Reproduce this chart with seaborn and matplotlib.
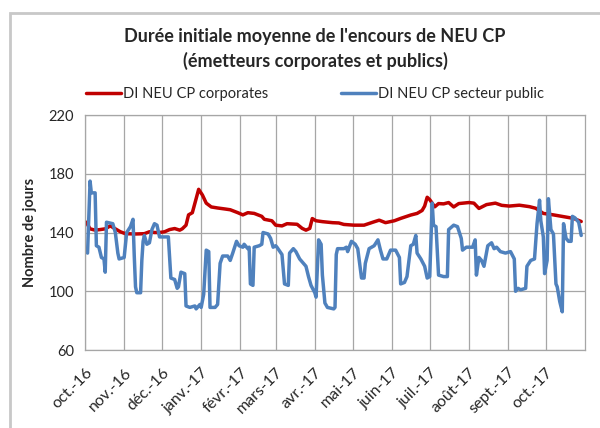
import pandas as pd
import matplotlib
matplotlib.use("Agg")
import matplotlib.pyplot as plt
import matplotlib.transforms as mtransforms
from matplotlib.patches import Rectangle
import seaborn as sns

# days counted from 1 Oct 2016, values in days
corp_days = [1, 4, 8, 12, 16, 20, 24, 28, 32, 40, 47, 51, 55, 59, 63, 67, 71, 75, 77, 80,
             82, 85, 88, 90, 93, 96, 100, 105, 111, 115, 118, 121, 125, 129, 134, 140, 142,
             148, 151, 156, 160, 168, 172, 175, 178, 180, 183, 188, 196, 201, 205, 213, 221,
             229, 233, 238, 245, 250, 258, 263, 267, 269, 271, 273, 277, 280, 284, 288, 292,
             296, 304, 308, 312, 318, 325, 330, 336, 344, 352, 357, 363, 371, 379, 387, 393]
corp_vals = [147, 142.5, 141.6, 142, 142.5, 144.5, 142.5, 140.5, 139.2, 139, 139.2, 140.5,
             140, 140, 140.5, 142, 142.7, 141.6, 142.5, 145, 152, 153.5, 163, 169.4, 165.5,
             160, 157.4, 156.7, 156, 155.5, 154.5, 153.5, 152, 153.5, 153, 151, 149, 148, 145,
             144.5, 146, 145.6, 142.8, 141.6, 142.8, 149.5, 148, 147.4, 146.7, 146.5, 145.5,
             145, 145, 147.3, 148.4, 146.7, 148, 149.6, 151.9, 153, 155, 158, 164, 162.4,
             157.5, 159.7, 159.5, 160.4, 157.4, 159.7, 160.4, 160, 156.4, 159, 160, 158.5,
             158, 158.6, 157.6, 156.5, 153, 152, 150.8, 149.6, 147.5]

pub_days = [1, 2, 4, 5, 8, 9, 11, 13, 15, 16, 17, 22, 24, 26, 27, 31, 33, 36, 38, 39, 40, 41,
            44, 45, 46, 47, 49, 51, 53, 55, 57, 59, 66, 68, 71, 73, 74, 76, 79, 80, 83, 87, 88,
            91, 92, 94, 96, 98, 99, 103, 105, 107, 109, 113, 115, 117, 120, 122, 125, 126, 129,
            130, 131, 133, 134, 138, 140, 141, 145, 147, 149, 151, 152, 156, 158, 161, 162, 165,
            167, 170, 173, 175, 177, 179, 182, 183, 185, 187, 188, 190, 192, 197, 198, 199, 200,
            205, 207, 208, 211, 214, 216, 219, 221, 222, 225, 229, 232, 234, 236, 239, 242, 246,
            249, 250, 253, 255, 258, 260, 262, 263, 266, 269, 271, 273, 275, 276, 278, 280, 284,
            287, 288, 292, 295, 298, 299, 302, 307, 309, 310, 312, 314, 316, 319, 322, 324, 326,
            329, 333, 337, 340, 341, 343, 345, 349, 350, 353, 356, 358, 360, 361, 363, 364, 366,
            367, 369, 371, 373, 374, 376, 378, 379, 381, 383, 385, 386, 388, 391, 393]
pub_vals = [127, 126, 175, 167, 167, 131, 130, 123, 122, 113, 147, 146, 140, 126, 122, 123,
            140, 144, 149, 124, 103, 99, 99, 121, 134, 138, 132, 133, 142, 146, 145, 137, 137,
            109, 108, 102, 103, 113, 112, 90, 89, 90, 88, 91, 89, 98, 128, 127, 89, 89, 91, 119,
            124, 124, 121, 126, 134, 131, 130, 132, 129, 130, 105, 104, 130, 131, 132, 140, 139,
            136, 130, 131, 130, 125, 105, 104, 126, 129, 127, 122, 119, 117, 110, 104, 99, 96,
            135, 132, 111, 92, 89, 88, 89, 125, 129, 129, 130, 127, 134, 132, 129, 109, 109, 119,
            129, 131, 135, 128, 122, 122, 128, 128, 123, 105, 106, 110, 131, 132, 138, 126, 122,
            117, 109, 110, 160, 145, 144, 111, 110, 110, 142, 145, 144, 136, 128, 130, 130, 135,
            111, 123, 121, 117, 131, 133, 129, 130, 127, 126, 127, 122, 100, 102, 101, 102, 117,
            121, 122, 146, 162, 148, 137, 112, 121, 163, 142, 139, 105, 103, 93, 86, 146, 136,
            134, 134, 151, 150, 147, 138]

month_labels = ['oct.-16', 'nov.-16', 'déc.-16', 'janv.-17', 'févr.-17', 'mars-17', 'avr.-17',
                'mai-17', 'juin-17', 'juil.-17', 'août-17', 'sept.-17', 'oct.-17']
y_ticks = [60, 100, 140, 180, 220]

start = pd.Timestamp('2016-10-01')
corp = pd.DataFrame({'date': start + pd.to_timedelta(corp_days, unit='D'),
                     'jours': corp_vals, 'serie': 'DI NEU CP corporates'})
pub = pd.DataFrame({'date': start + pd.to_timedelta(pub_days, unit='D'),
                    'jours': pub_vals, 'serie': 'DI NEU CP secteur public'})
df = pd.concat([corp, pub], ignore_index=True)

sns.set_style("white")
plt.rcParams['font.family'] = ['Lato', 'DejaVu Sans']

fig = plt.figure(figsize=(6, 4.28), dpi=100)
ax = fig.add_axes([0.1417, 0.1822, 0.8333, 0.5491])

pal = {'DI NEU CP corporates': '#C00000', 'DI NEU CP secteur public': '#4F81BD'}
sns.lineplot(data=df, x='date', y='jours', hue='serie', palette=pal, linewidth=2.5,
             ax=ax, legend=True)

grid_col = '#a6a6a6'
ticks = pd.date_range('2016-10-01', '2017-10-01', freq='MS')
ax.set_xlim(pd.Timestamp('2016-10-01'), pd.Timestamp('2017-11-01'))
ax.set_xticks(ticks)
ax.set_xticklabels(month_labels, rotation=45, ha='right', rotation_mode='anchor',
                   fontsize=11.5, color='#262626')
# shift the rotated labels a bit right and down, like the original
shift = mtransforms.ScaledTranslation(7 / 100, -6 / 100, fig.dpi_scale_trans)
for lab in ax.get_xticklabels():
    lab.set_transform(lab.get_transform() + shift)
ax.set_ylim(60, 220)
ax.set_yticks(y_ticks)
ax.set_yticklabels([str(v) for v in y_ticks], fontsize=10.5, color='#262626')
ax.grid(True, color=grid_col, linewidth=0.9)
ax.set_axisbelow(True)
for s in ax.spines.values():
    s.set_color(grid_col)
    s.set_linewidth(0.9)
ax.tick_params(axis='both', length=5, color=grid_col, width=0.9, pad=3)
ax.tick_params(axis='x', pad=6)
ax.set_xlabel('')
ax.set_ylabel('Nombre de jours', fontsize=10.5, fontweight='bold', labelpad=8)

handles, labels = ax.get_legend_handles_labels()
ax.get_legend().remove()
fig.legend(handles, labels, loc='center', bbox_to_anchor=(0.525, 0.78), ncol=2,
           frameon=False, fontsize=10.5, handlelength=2.4, handletextpad=0.1,
           columnspacing=5.0)

fig.text(0.525, 0.886, "Durée initiale moyenne de l'encours de NEU CP\n(émetteurs corporates et publics)",
         ha='center', va='center', fontsize=13, fontweight='bold', linespacing=1.45)

# outer chart border (cropped at right and bottom)
fig.patches.append(Rectangle((10 / 600, -0.1), 1.2, 1.1 - 13 / 428, transform=fig.transFigure,
                             fill=False, edgecolor='#c8c8c8', linewidth=2))

fig.savefig('out.png', dpi=100)
